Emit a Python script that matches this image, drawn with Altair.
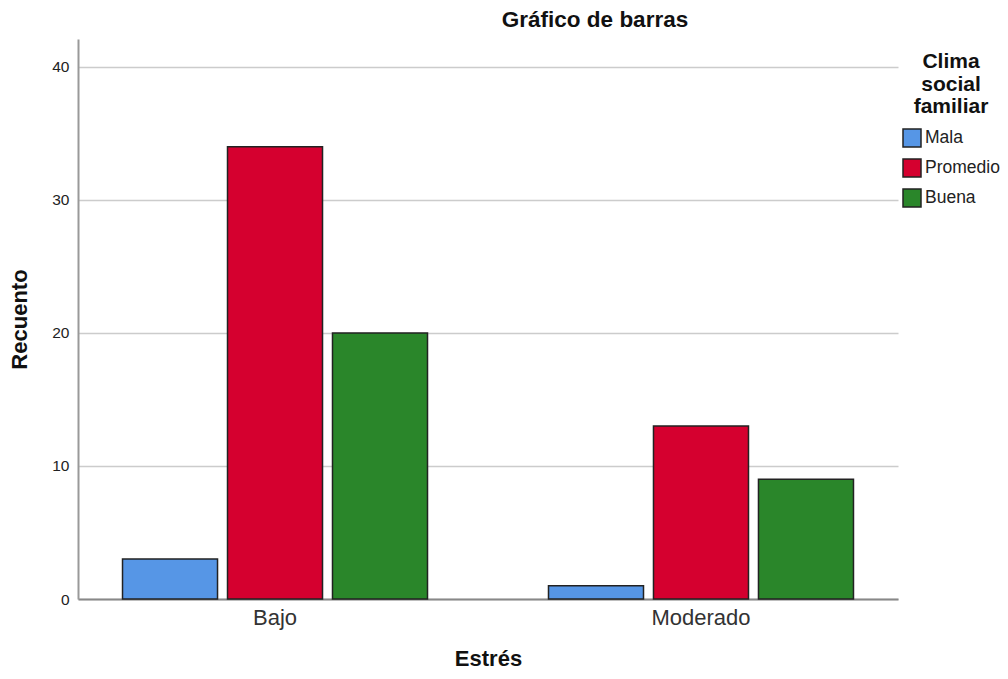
import altair as alt
import pandas as pd

estres = ["Bajo", "Bajo", "Bajo", "Moderado", "Moderado", "Moderado"]
clima = ["Mala", "Promedio", "Buena", "Mala", "Promedio", "Buena"]
recuento = [3, 34, 20, 1, 13, 9]

cat_order = ["Bajo", "Moderado"]
clima_order = ["Mala", "Promedio", "Buena"]
colors = ["#5696E6", "#D5002F", "#2A862A"]

df = pd.DataFrame({"Estrés": estres, "Clima": clima, "Recuento": recuento})

font = "Liberation Sans"

chart = alt.Chart(df).mark_bar(stroke="#222222", strokeWidth=1.5).encode(
    x=alt.X("Estrés:N", sort=cat_order,
            scale=alt.Scale(paddingInner=0.075, paddingOuter=0),
            axis=alt.Axis(title="Estrés", labelAngle=0, labelFontSize=22, labelColor="#333333",
                          labelFont=font, titleFont=font, titleFontSize=22, titleFontWeight="bold",
                          titleColor="#111111", ticks=False, labelPadding=8, titlePadding=20,
                          domainColor="#888888", domainWidth=2)),
    xOffset=alt.XOffset("Clima:N", sort=clima_order,
                        scale=alt.Scale(paddingInner=0.095, paddingOuter=0.424)),
    y=alt.Y("Recuento:Q", scale=alt.Scale(domain=[0, 42.1], nice=False),
            axis=alt.Axis(title="Recuento", values=[0, 10, 20, 30, 40], labelFontSize=15.5,
                          labelColor="#222222", labelFont=font, titleFont=font, titleFontSize=22,
                          titleFontWeight="bold", titleColor="#111111", ticks=False,
                          labelPadding=9, titlePadding=20, domainColor="#999999", domainWidth=2,
                          gridColor="#cccccc", gridWidth=1.5)),
    color=alt.Color("Clima:N", sort=clima_order,
                    scale=alt.Scale(domain=clima_order, range=colors),
                    legend=alt.Legend(title=["Clima", "social", "familiar"], orient="none",
                                      legendX=824, legendY=12, titleFontSize=21, titleFont=font,
                                      titleFontWeight="bold", titleColor="#111111",
                                      titleAnchor="middle", titleAlign="center", titlePadding=11,
                                      titleLineHeight=22.5,
                                      labelFont=font, labelFontSize=17.5, labelColor="#222222",
                                      symbolType="square", symbolSize=324, symbolStrokeColor="#222222",
                                      symbolStrokeWidth=1.5, rowPadding=6, labelOffset=3)),
).properties(
    width=820,
    height=560,
    title=alt.TitleParams("Gráfico de barras", font=font, fontSize=22.5, fontWeight="bold",
                          color="#111111", anchor="middle", dx=107, offset=8),
    autosize=alt.AutoSizeParams(type="none"),
    padding={"left": 70, "top": 31, "right": 102, "bottom": 71},
).configure_view(stroke=None).configure_axisY(grid=True).configure_axisX(grid=False)

chart.save("out.html", embed_options={"renderer": "svg", "actions": False})
